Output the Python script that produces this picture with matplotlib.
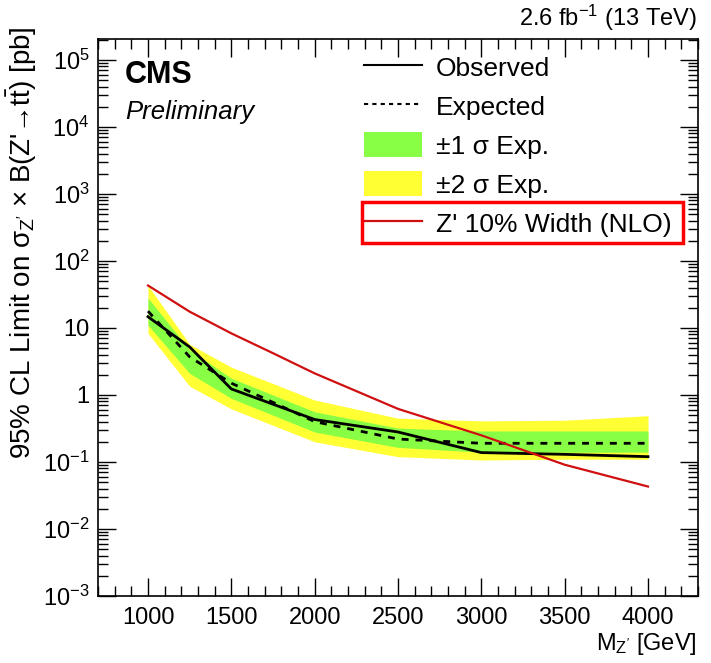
import matplotlib
matplotlib.use("Agg")
import matplotlib.pyplot as plt
from matplotlib.lines import Line2D
from matplotlib.patches import Patch, Rectangle
from matplotlib.ticker import MultipleLocator, FixedLocator, NullFormatter

plt.rcParams["font.family"] = ["Liberation Sans", "DejaVu Sans"]
plt.rcParams["mathtext.fontset"] = "custom"
plt.rcParams["mathtext.rm"] = "Liberation Sans"
plt.rcParams["mathtext.it"] = "Liberation Sans:italic"
plt.rcParams["mathtext.bf"] = "Liberation Sans:bold"

# limits vs Z' mass (GeV), values in pb
mass = [1000, 1250, 1500, 2000, 2500, 3000, 3500, 4000]
observed = [14.7, 5.2, 1.23, 0.43, 0.28, 0.138, 0.13, 0.12]
expected = [17.8, 3.7, 1.5, 0.40, 0.22, 0.19, 0.19, 0.19]
exp_1s_lo = [11.0, 2.1, 0.89, 0.28, 0.165, 0.14, 0.14, 0.14]
exp_1s_hi = [28.0, 4.7, 1.78, 0.56, 0.32, 0.29, 0.29, 0.29]
exp_2s_lo = [8.3, 1.35, 0.62, 0.20, 0.12, 0.107, 0.11, 0.11]
exp_2s_hi = [43.0, 5.7, 2.6, 0.84, 0.45, 0.41, 0.42, 0.49]

theory_mass = [1000, 1250, 1500, 1750, 2000, 2500, 3000, 3500, 4000]
theory_xsec = [43.0, 17.5, 8.3, 4.2, 2.1, 0.62, 0.25, 0.091, 0.043]

ytick_vals = [1e-3, 1e-2, 1e-1, 1, 10, 1e2, 1e3, 1e4, 1e5]
ytick_labels = [r"10$^{-3}$", r"10$^{-2}$", r"10$^{-1}$", "1", "10",
                r"10$^{2}$", r"10$^{3}$", r"10$^{4}$", r"10$^{5}$"]

green = "#88ff44"
yellow = "#ffff33"
red = "#d01010"

W, H = 711, 663
fig = plt.figure(figsize=(W / 100, H / 100), dpi=100)
ax = fig.add_axes([98 / W, 1 - 596 / H, (698 - 98) / W, (596 - 39) / H])

ax.fill_between(mass, exp_2s_lo, exp_2s_hi, color=yellow, lw=0)
ax.fill_between(mass, exp_1s_lo, exp_1s_hi, color=green, lw=0)
ax.plot(mass, expected, color="black", lw=2, ls=(0, (2.5, 2.5)))
ax.plot(mass, observed, color="black", lw=2)
ax.plot(theory_mass, theory_xsec, color=red, lw=1.6)

ax.set_yscale("log")
ax.set_xlim(700, 4300)
ax.set_ylim(1e-3, 2.05e5)

ax.xaxis.set_minor_locator(MultipleLocator(100))
ax.set_xticks([1000, 1500, 2000, 2500, 3000, 3500, 4000])
ax.yaxis.set_major_locator(FixedLocator(ytick_vals))
ax.set_yticklabels(ytick_labels)
ax.yaxis.set_minor_formatter(NullFormatter())
ax.tick_params(which="both", direction="in", top=True, right=True, labelsize=17, width=1)
ax.tick_params(which="major", length=13)
ax.tick_params(which="minor", length=7)
ax.tick_params(axis="x", pad=8)
ax.tick_params(axis="y", pad=6)
for s in ax.spines.values():
    s.set_linewidth(1.2)

handles = [
    Line2D([], [], color="black", lw=1.5),
    Line2D([], [], color="black", lw=1.5, ls=(0, (2, 2))),
    Patch(facecolor=green, edgecolor="none"),
    Patch(facecolor=yellow, edgecolor="none"),
    Line2D([], [], color=red, lw=1.6),
]
labels = ["Observed", "Expected", "\u00b11 \u03c3 Exp.", "\u00b12 \u03c3 Exp.",
          "Z' 10% Width (NLO)"]
leg = ax.legend(handles, labels, loc="upper left",
                bbox_to_anchor=(364 / W, 1 - 54 / H), bbox_transform=fig.transFigure,
                frameon=False, fontsize=19, handlelength=2.2, handleheight=1.1,
                handletextpad=0.53, labelspacing=0.47, borderpad=0, borderaxespad=0)

fig.patches.append(Rectangle((362 / W, 1 - 243 / H), (683 - 362) / W, (243 - 202) / H,
                             transform=fig.transFigure, fill=False, edgecolor="#ff0000",
                             lw=2.5, zorder=5))

fig.text(125 / W, 1 - 75 / H, "CMS", fontsize=22, fontweight="bold", va="center", ha="left")
fig.text(125 / W, 1 - 112 / H, "Preliminary", fontsize=18.5, fontstyle="italic",
         va="center", ha="left")
fig.text(697 / W, 1 - 18 / H, r"2.6 fb$^{-1}$ (13 TeV)", fontsize=17, ha="right", va="center")
fig.text(697 / W, 1 - 644 / H, r"M$_{\mathrm{Z'}}$ [GeV]", fontsize=17, ha="right", va="center")
fig.text(22 / W, 1 - 26 / H,
         "95% CL Limit on \u03c3$_{\\mathrm{Z'}}$ \u00d7 B(Z'\u2192t$\\bar{\\mathrm{t}}$) [pb]",
         fontsize=20, rotation=90, ha="center", va="top")

fig.savefig("out.png", dpi=100)
